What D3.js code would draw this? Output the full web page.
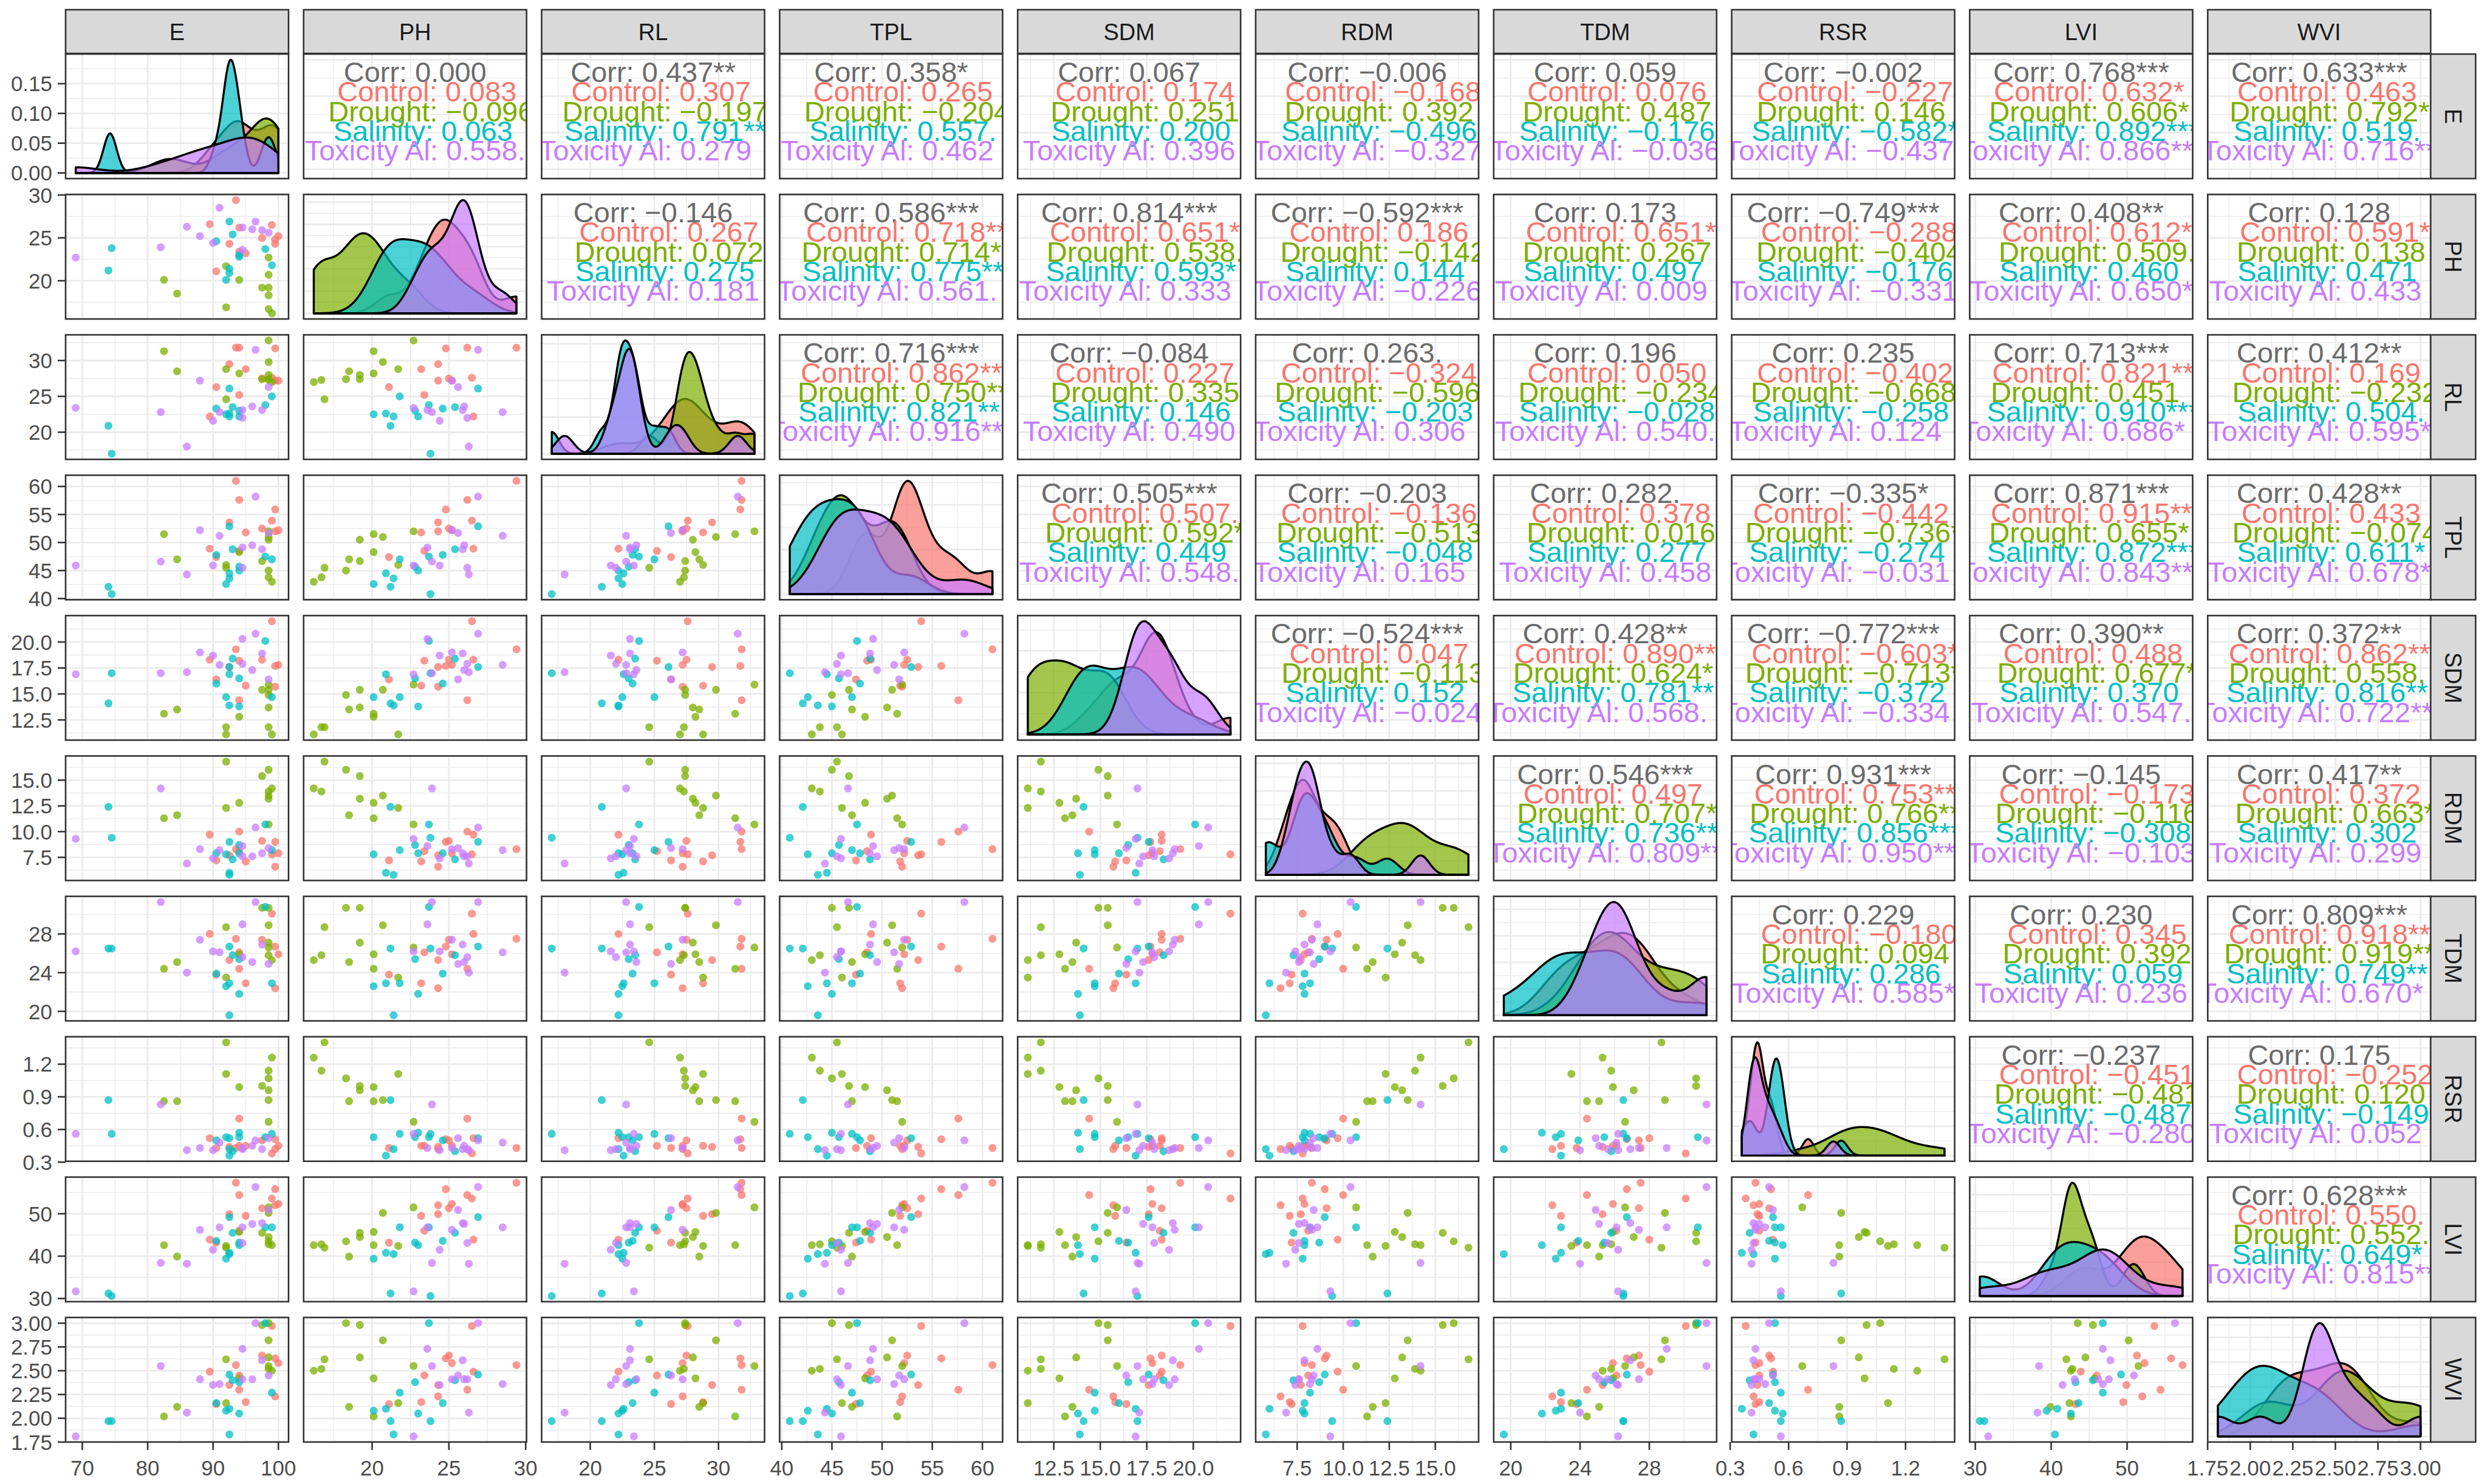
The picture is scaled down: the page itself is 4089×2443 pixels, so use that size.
<!DOCTYPE html>
<html>
<head>
<meta charset="utf-8">
<script src="https://cdn.jsdelivr.net/npm/d3@7"></script>
<style>
  body { margin: 0; padding: 0; background: #fff; }
  svg { display: block; font-family: "Liberation Sans", Arial, Helvetica, sans-serif; }
</style>
</head>
<body>
<div id="viz"></div>
<script>

// variables in panel order and treatment groups
var vars = ["E", "PH", "RL", "TPL", "SDM", "RDM", "TDM", "RSR", "LVI", "WVI"];
var groups = ["Control", "Drought", "Salinity", "Toxicity Al"];
var groupColors = ["#F8766D", "#7CAE00", "#00BFC4", "#C77CFF"];
var perGroup = 12;

var E = [89.5, 90.5, 92.5, 93.5, 94, 94, 95, 97.5, 99, 99.5, 99.5, 100,
         82.5, 84.5, 92, 92, 94, 97.5, 98.5, 98.5, 98.5, 98.5, 98.5, 99,
         74, 74.5, 90.5, 92, 92.5, 92.5, 92.5, 93, 94, 94, 98, 99,
         69, 82, 86, 88, 90, 91, 94.5, 94.5, 96, 96.5, 97.5, 98.5];
var PH = [26.6, 21.1, 24.3, 29.4, 26.2, 23.4, 23.2, 25.0, 26.5, 24.8, 24.3, 25.2,
          20.1, 18.5, 21.7, 16.9, 20.1, 19.2, 22.7, 20.7, 18.3, 19.2, 16.7, 16.2,
          21.2, 23.8, 24.6, 20.1, 26.9, 21.4, 20.9, 25.4, 22.8, 23.0, 23.7, 21.8,
          22.7, 23.9, 26.3, 25.2, 24.4, 28.5, 23.6, 26.2, 26.0, 26.9, 25.9, 25.6];
var RL = [22.2, 26.3, 29.5, 31.8, 31.8, 25.2, 28.8, 27.5, 27.6, 31.7, 27.2, 27.2,
          31.3, 28.5, 28.8, 24.6, 28.2, 27.4, 32.8, 29.8, 27.4, 28.0, 27.3, 27.0,
          20.9, 17.0, 23.3, 22.5, 26.1, 22.2, 22.6, 23.5, 23.0, 22.2, 23.8, 25.0,
          23.4, 22.8, 18.0, 27.2, 21.6, 22.8, 23.1, 22.0, 23.6, 31.5, 23.1, 26.3];
var TPL = [48.9, 47.4, 53.6, 61.0, 57.6, 48.5, 51.8, 52.5, 53.9, 55.9, 52.0, 52.2,
           51.5, 47.0, 46.0, 45.5, 48.3, 46.7, 52.0, 51.0, 45.0, 50.5, 43.8, 43.0,
           42.1, 40.8, 47.8, 42.6, 52.9, 43.6, 44.5, 48.8, 45.7, 45.0, 47.5, 47.0,
           45.9, 46.6, 44.3, 52.2, 45.9, 51.2, 49.1, 45.5, 49.5, 58.2, 48.8, 51.7];
var SDM = [18.3, 16.4, 17.6, 19.3, 14.4, 18.2, 15.8, 18.3, 22.0, 17.7, 15.7, 17.8,
           13.1, 13.5, 11.1, 11.8, 12.8, 15.4, 15.9, 15.4, 14.9, 13.7, 11.8, 11.1,
           14.1, 17.0, 16.0, 14.7, 17.6, 13.9, 16.9, 18.4, 16.5, 13.8, 20.1, 14.7,
           16.9, 17.0, 17.1, 19.0, 18.7, 17.8, 20.3, 17.9, 17.3, 20.8, 18.9, 16.4];
var RDM = [9.7, 7.2, 7.7, 8.3, 10.0, 8.1, 7.1, 9.1, 7.8, 9.0, 6.6, 7.9,
           11.3, 11.6, 12.3, 16.8, 12.8, 15.4, 10.7, 13.5, 16.0, 13.2, 13.9, 14.2,
           12.4, 9.4, 7.9, 7.8, 9.0, 5.8, 6.0, 7.3, 8.7, 7.9, 10.7, 8.2,
           9.3, 14.2, 6.9, 8.3, 7.4, 8.2, 8.6, 7.6, 7.6, 10.4, 7.9, 8.4];
var TDM = [28.0, 23.8, 25.3, 27.5, 24.4, 26.1, 22.9, 27.4, 30.1, 26.7, 22.4, 25.9,
           24.4, 25.1, 23.5, 28.7, 25.9, 30.7, 26.6, 28.9, 30.7, 27.1, 25.8, 25.3,
           26.5, 26.5, 23.9, 22.6, 26.7, 19.6, 22.9, 25.8, 25.4, 21.8, 30.8, 22.9,
           26.2, 31.3, 24.0, 27.4, 26.2, 26.1, 29.0, 25.6, 25.1, 31.3, 26.9, 24.9];
var RSR = [0.52, 0.43, 0.44, 0.43, 0.70, 0.45, 0.45, 0.50, 0.38, 0.51, 0.42, 0.45,
           0.86, 0.86, 1.11, 1.40, 0.99, 1.00, 0.67, 0.87, 1.07, 0.96, 1.14, 1.26,
           0.87, 0.56, 0.50, 0.53, 0.52, 0.42, 0.36, 0.40, 0.53, 0.57, 0.53, 0.56,
           0.56, 0.83, 0.41, 0.43, 0.41, 0.48, 0.43, 0.42, 0.45, 0.50, 0.42, 0.52];
var LVI = [43.9, 43.2, 49.9, 57.3, 54.4, 46.0, 49.5, 51.3, 53.6, 55.8, 52.0, 52.3,
           42.6, 39.9, 42.4, 42.0, 45.7, 45.5, 51.5, 50.2, 43.5, 44.5, 42.8, 42.6,
           31.2, 30.6, 43.6, 39.4, 49.2, 40.5, 40.8, 45.5, 43.2, 42.6, 46.8, 46.8,
           31.7, 38.4, 38.2, 46.2, 41.5, 46.8, 46.8, 43.1, 47.6, 56.3, 47.8, 50.9];
var WVI = [2.49, 2.15, 2.35, 2.56, 2.30, 2.45, 2.17, 2.66, 2.97, 2.63, 2.23, 2.58,
           2.02, 2.12, 2.16, 2.62, 2.42, 2.98, 2.55, 2.82, 3.00, 2.64, 2.52, 2.50,
           1.97, 1.97, 2.16, 2.08, 2.46, 1.83, 2.10, 2.40, 2.38, 2.05, 3.00, 2.27,
           1.81, 2.55, 2.06, 2.41, 2.35, 2.36, 2.73, 2.41, 2.41, 3.00, 2.61, 2.45];

// axis tick labels per variable
var ticksE = ["70", "80", "90", "100"];
var ticksDensityE = ["0.00", "0.05", "0.10", "0.15"];
var ticksPH = ["20", "25", "30"];
var ticksRL = ["20", "25", "30"];
var ticksTPL = ["40", "45", "50", "55", "60"];
var ticksSDM = ["12.5", "15.0", "17.5", "20.0"];
var ticksRDM = ["7.5", "10.0", "12.5", "15.0"];
var ticksTDM = ["20", "24", "28"];
var ticksRSR = ["0.3", "0.6", "0.9", "1.2"];
var ticksLVI = ["30", "40", "50"];
var ticksWVI = ["1.75", "2.00", "2.25", "2.50", "2.75", "3.00"];

// correlations for upper panels, row by row (row var < column var)
var corrAll = [0.000, 0.437, 0.358, 0.067, -0.006, 0.059, -0.002, 0.768, 0.633,
               -0.146, 0.586, 0.814, -0.592, 0.173, -0.749, 0.408, 0.128,
               0.716, -0.084, 0.263, 0.196, 0.235, 0.713, 0.412,
               0.505, -0.203, 0.282, -0.335, 0.871, 0.428,
               -0.524, 0.428, -0.772, 0.390, 0.372,
               0.546, 0.931, -0.145, 0.417,
               0.229, 0.230, 0.809,
               -0.237, 0.175,
               0.628];
var corrControl = [0.083, 0.307, 0.265, 0.174, -0.168, 0.076, -0.227, 0.632, 0.463,
                   0.267, 0.718, 0.651, 0.186, 0.651, -0.288, 0.612, 0.591,
                   0.862, 0.227, -0.324, 0.050, -0.402, 0.821, 0.169,
                   0.507, -0.136, 0.378, -0.442, 0.915, 0.433,
                   0.047, 0.890, -0.603, 0.488, 0.862,
                   0.497, 0.753, -0.173, 0.372,
                   -0.180, 0.345, 0.918,
                   -0.451, -0.252,
                   0.550];
var corrDrought = [-0.096, -0.197, -0.204, 0.251, 0.392, 0.487, 0.146, 0.606, 0.792,
                   0.072, 0.714, 0.538, -0.142, 0.267, -0.404, 0.509, 0.138,
                   0.750, 0.335, -0.596, -0.234, -0.668, 0.451, -0.232,
                   0.592, -0.513, 0.016, -0.736, 0.655, -0.074,
                   -0.113, 0.624, -0.713, 0.677, 0.558,
                   0.707, 0.766, -0.116, 0.663,
                   0.094, 0.392, 0.919,
                   -0.481, 0.120,
                   0.552];
var corrSalinity = [0.063, 0.791, 0.557, 0.200, -0.496, -0.176, -0.582, 0.892, 0.519,
                    0.275, 0.775, 0.593, 0.144, 0.497, -0.176, 0.460, 0.471,
                    0.821, 0.146, -0.203, -0.028, -0.258, 0.910, 0.504,
                    0.449, -0.048, 0.277, -0.274, 0.872, 0.611,
                    0.152, 0.781, -0.372, 0.370, 0.816,
                    0.736, 0.856, -0.308, 0.302,
                    0.286, 0.059, 0.749,
                    -0.487, -0.149,
                    0.649];
var corrToxicity = [0.558, 0.279, 0.462, 0.396, -0.327, -0.036, -0.437, 0.866, 0.716,
                    0.181, 0.561, 0.333, -0.226, 0.009, -0.331, 0.650, 0.433,
                    0.916, 0.490, 0.306, 0.540, 0.124, 0.686, 0.595,
                    0.548, 0.165, 0.458, -0.031, 0.843, 0.678,
                    -0.024, 0.568, -0.334, 0.547, 0.722,
                    0.809, 0.950, -0.103, 0.299,
                    0.585, 0.236, 0.670,
                    -0.280, 0.052,
                    0.815];

var columns = {E: E, PH: PH, RL: RL, TPL: TPL, SDM: SDM, RDM: RDM, TDM: TDM, RSR: RSR, LVI: LVI, WVI: WVI};
var tickLabels = {E: ticksE, PH: ticksPH, RL: ticksRL, TPL: ticksTPL, SDM: ticksSDM,
                  RDM: ticksRDM, TDM: ticksTDM, RSR: ticksRSR, LVI: ticksLVI, WVI: ticksWVI};
var groupCorr = [corrControl, corrDrought, corrSalinity, corrToxicity];

var treatment = [];
groups.forEach(function(g) { for (var k = 0; k < perGroup; k++) treatment.push(g); });

// layout
var W = 4089, H = 2443;
var panelW = 367, panelH = 205;
var left0 = 108, top0 = 89, stepX = 391.8, stepY = 231.1;
function colX(i) { return left0 + i * stepX; }
function rowY(j) { return top0 + j * stepY; }
var nv = vars.length;
var bottomY = rowY(nv - 1) + panelH;
var stripRight = colX(nv - 1) + panelW;
var lineGap = 32.3;

function expand(ext) { var d = (ext[1] - ext[0]) * 0.05; return [ext[0] - d, ext[1] + d]; }

var xScale = vars.map(function(v, i) {
  return d3.scaleLinear().domain(expand(d3.extent(columns[v]))).range([colX(i), colX(i) + panelW]);
});
var yScale = vars.map(function(v, j) {
  return d3.scaleLinear().domain(expand(d3.extent(columns[v]))).range([rowY(j) + panelH, rowY(j)]);
});

// kernel density per group (gaussian, bw.nrd0, evaluated on the full data range)
function bwNrd0(x) {
  var s = x.slice().sort(d3.ascending);
  var hi = d3.deviation(s);
  var iqr = d3.quantile(s, 0.75) - d3.quantile(s, 0.25);
  var lo = Math.min(hi, iqr / 1.34);
  if (!lo) lo = hi || Math.abs(s[0]) || 1;
  return 0.9 * lo * Math.pow(s.length, -0.2);
}
function kde(values, grid) {
  var bw = bwNrd0(values);
  var c = 1 / (values.length * bw * Math.sqrt(2 * Math.PI));
  return grid.map(function(x) {
    return [x, c * d3.sum(values, function(v) { var u = (x - v) / bw; return Math.exp(-0.5 * u * u); })];
  });
}
var densities = vars.map(function(v) {
  var ext = d3.extent(columns[v]);
  var grid = d3.range(512).map(function(k) { return ext[0] + (ext[1] - ext[0]) * k / 511; });
  return groups.map(function(g) {
    var vals = columns[v].filter(function(d, k) { return treatment[k] === g; });
    return kde(vals, grid);
  });
});
var dScale = densities.map(function(dg, j) {
  var mx = d3.max(dg, function(curve) { return d3.max(curve, function(p) { return p[1]; }); });
  return d3.scaleLinear().domain(expand([0, mx])).range([rowY(j) + panelH, rowY(j)]);
});

function minorTicks(major, dom) {
  var step = major[1] - major[0], out = [major[0] - step / 2];
  for (var k = 0; k < major.length - 1; k++) out.push((major[k] + major[k + 1]) / 2);
  out.push(major[major.length - 1] + step / 2);
  return out.filter(function(t) { return t >= dom[0] && t <= dom[1]; });
}

function fmt(r) { return r.toFixed(3).replace("-", "\u2212"); }
function stars(r, thr) {
  var a = Math.abs(r);
  return a > thr[0] ? "***" : a > thr[1] ? "**" : a > thr[2] ? "*" : a > thr[3] ? "." : "";
}
var thrAll = [0.460, 0.368, 0.2846, 0.2403];   // n = 48
var thrGroup = [0.823, 0.708, 0.576, 0.4973];  // n = 12

var svg = d3.select("#viz").append("svg")
  .attr("width", W).attr("height", H)
  .attr("viewBox", "0 0 " + W + " " + H);

var defs = svg.append("defs");
var pairIndex = 0;

for (var j = 0; j < nv; j++) {
  for (var i = 0; i < nv; i++) {
    var x0 = colX(i), y0 = rowY(j);
    var xs = xScale[i];
    var ys = (i === j) ? dScale[j] : yScale[j];
    var g = svg.append("g");
    var clipId = "clip-" + j + "-" + i;
    defs.append("clipPath").attr("id", clipId).append("rect")
      .attr("x", x0).attr("y", y0).attr("width", panelW).attr("height", panelH);

    g.append("rect").attr("x", x0).attr("y", y0).attr("width", panelW).attr("height", panelH)
      .attr("fill", "#fff");

    var xMaj = tickLabels[vars[i]].map(Number);
    var yMaj = (i === j) ? ys.ticks(4) : tickLabels[vars[j]].map(Number);
    var xMin = minorTicks(xMaj, xs.domain());
    var yMin = minorTicks(yMaj, ys.domain());
    var grid = g.append("g").attr("clip-path", "url(#" + clipId + ")");
    grid.selectAll(".vminor").data(xMin).enter().append("line")
      .attr("x1", xs).attr("x2", xs).attr("y1", y0).attr("y2", y0 + panelH)
      .attr("stroke", "#EBEBEB").attr("stroke-width", 1.4);
    grid.selectAll(".hminor").data(yMin).enter().append("line")
      .attr("y1", ys).attr("y2", ys).attr("x1", x0).attr("x2", x0 + panelW)
      .attr("stroke", "#EBEBEB").attr("stroke-width", 1.4);
    grid.selectAll(".vmajor").data(xMaj).enter().append("line")
      .attr("x1", xs).attr("x2", xs).attr("y1", y0).attr("y2", y0 + panelH)
      .attr("stroke", "#EBEBEB").attr("stroke-width", 2.8);
    grid.selectAll(".hmajor").data(yMaj).enter().append("line")
      .attr("y1", ys).attr("y2", ys).attr("x1", x0).attr("x2", x0 + panelW)
      .attr("stroke", "#EBEBEB").attr("stroke-width", 2.8);

    var content = g.append("g").attr("clip-path", "url(#" + clipId + ")");

    if (i === j) {
      var area = d3.line().x(function(p) { return xs(p[0]); }).y(function(p) { return ys(p[1]); });
      densities[i].forEach(function(curve, k) {
        var pts = [[curve[0][0], 0]].concat(curve, [[curve[curve.length - 1][0], 0]]);
        content.append("path").attr("d", area(pts) + "Z")
          .attr("fill", groupColors[k]).attr("fill-opacity", 0.7)
          .attr("stroke", "#000").attr("stroke-width", 3.4).attr("stroke-linejoin", "round");
      });
    } else if (j > i) {
      var xv = columns[vars[i]], yv = columns[vars[j]];
      content.selectAll("circle").data(d3.range(xv.length)).enter().append("circle")
        .attr("cx", function(k) { return xs(xv[k]); })
        .attr("cy", function(k) { return ys(yv[k]); })
        .attr("r", 6.5)
        .attr("fill", function(k) { return groupColors[groups.indexOf(treatment[k])]; })
        .attr("fill-opacity", 0.75);
    } else {
      var cx = x0 + panelW / 2;
      var rAll = corrAll[pairIndex];
      content.append("text").attr("x", cx).attr("y", y0 + 46)
        .attr("text-anchor", "middle").attr("font-size", 47).attr("fill", "#6B6B6B")
        .style("white-space", "pre")
        .text("Corr: " + fmt(rAll) + stars(rAll, thrAll));
      var vals = groupCorr.map(function(arr) { var r = arr[pairIndex]; return fmt(r) + stars(r, thrGroup); });
      var maxLen = d3.max(vals, function(s) { return s.length; });
      var labLen = d3.max(groups, function(s) { return s.length; });
      groups.forEach(function(gname, k) {
        var label = gname.padStart(labLen) + ": " + vals[k].padEnd(maxLen);
        content.append("text").attr("x", cx).attr("y", y0 + 46 + lineGap * (k + 1))
          .attr("text-anchor", "middle").attr("font-size", 47).attr("fill", groupColors[k])
          .style("white-space", "pre")
          .text(label);
      });
      pairIndex++;
    }

    g.append("rect").attr("x", x0).attr("y", y0).attr("width", panelW).attr("height", panelH)
      .attr("fill", "none").attr("stroke", "#333333").attr("stroke-width", 2.6);
  }
}

// top strips
vars.forEach(function(v, i) {
  svg.append("rect").attr("x", colX(i)).attr("y", 16).attr("width", panelW).attr("height", 72)
    .attr("fill", "#D9D9D9").attr("stroke", "#333333").attr("stroke-width", 2.6);
  svg.append("text").attr("x", colX(i) + panelW / 2).attr("y", 52).attr("dy", "0.36em")
    .attr("text-anchor", "middle").attr("font-size", 38).attr("fill", "#1A1A1A").text(v);
});
// right strips
vars.forEach(function(v, j) {
  svg.append("rect").attr("x", stripRight).attr("y", rowY(j)).attr("width", 74).attr("height", panelH)
    .attr("fill", "#D9D9D9").attr("stroke", "#333333").attr("stroke-width", 2.6);
  svg.append("text").attr("transform", "translate(" + (stripRight + 37) + "," + (rowY(j) + panelH / 2) + ") rotate(90)")
    .attr("dy", "0.36em").attr("text-anchor", "middle").attr("font-size", 38).attr("fill", "#1A1A1A").text(v);
});

// left axes
vars.forEach(function(v, j) {
  var labs = (j === 0) ? ticksDensityE : tickLabels[v];
  var sc = (j === 0) ? dScale[0] : yScale[j];
  var ax = svg.append("g");
  ax.selectAll("line").data(labs).enter().append("line")
    .attr("x1", left0 - 13).attr("x2", left0)
    .attr("y1", function(t) { return sc(+t); }).attr("y2", function(t) { return sc(+t); })
    .attr("stroke", "#333333").attr("stroke-width", 2.6);
  ax.selectAll("text").data(labs).enter().append("text")
    .attr("x", left0 - 22).attr("y", function(t) { return sc(+t); }).attr("dy", "0.36em")
    .attr("text-anchor", "end").attr("font-size", 35).attr("fill", "#4D4D4D").text(function(t) { return t; });
});

// bottom axes
vars.forEach(function(v, i) {
  var labs = tickLabels[v], sc = xScale[i];
  var ax = svg.append("g");
  ax.selectAll("line").data(labs).enter().append("line")
    .attr("y1", bottomY).attr("y2", bottomY + 13)
    .attr("x1", function(t) { return sc(+t); }).attr("x2", function(t) { return sc(+t); })
    .attr("stroke", "#333333").attr("stroke-width", 2.6);
  ax.selectAll("text").data(labs).enter().append("text")
    .attr("y", bottomY + 55).attr("x", function(t) { return sc(+t); })
    .attr("text-anchor", "middle").attr("font-size", 35).attr("fill", "#4D4D4D").text(function(t) { return t; });
});
</script>
</body>
</html>
